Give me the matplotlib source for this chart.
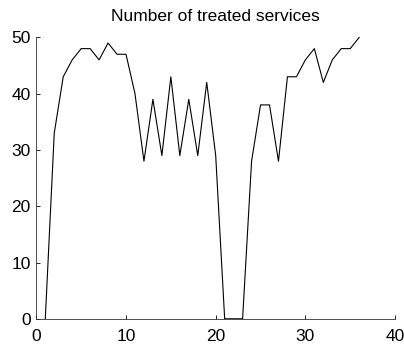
import matplotlib as mpl
mpl.use("Agg")
import matplotlib.pyplot as plt

# number of treated services per step (MATLAB-style plot(y), x starts at 1)
steps = list(range(1, 37))
treated = [0, 33, 43, 46, 48, 48, 46, 49, 47, 47,
           40, 28, 39, 29, 43, 29, 39, 29, 42, 29,
           0, 0, 0, 28, 38, 38, 28, 43, 43, 46,
           48, 42, 46, 48, 48, 50]

x_ticks = [0, 10, 20, 30, 40]
y_ticks = [0, 10, 20, 30, 40, 50]

plt.rcParams["font.family"] = ["Liberation Sans", "DejaVu Sans"]

fig = plt.figure(figsize=(4.04, 3.47), dpi=100)
ax = fig.add_axes([0.0899, 0.0813, 0.888, 0.811])

ax.plot(steps, treated, color="black", linewidth=0.8)

ax.set_xlim(0, 40)
ax.set_ylim(0, 50)
ax.set_xticks(x_ticks)
ax.set_yticks(y_ticks)
ax.tick_params(direction="in", length=3, width=0.6, labelsize=12.5)
ax.tick_params(axis="x", pad=7.5)
ax.tick_params(axis="y", pad=4)

for side in ("top", "right"):
    ax.spines[side].set_visible(False)
for side in ("left", "bottom"):
    ax.spines[side].set_linewidth(0.6)
    ax.spines[side].set_color("#333333")

ax.set_title("Number of treated services", fontsize=12.5, pad=12)

fig.savefig("out.png", dpi=100)
